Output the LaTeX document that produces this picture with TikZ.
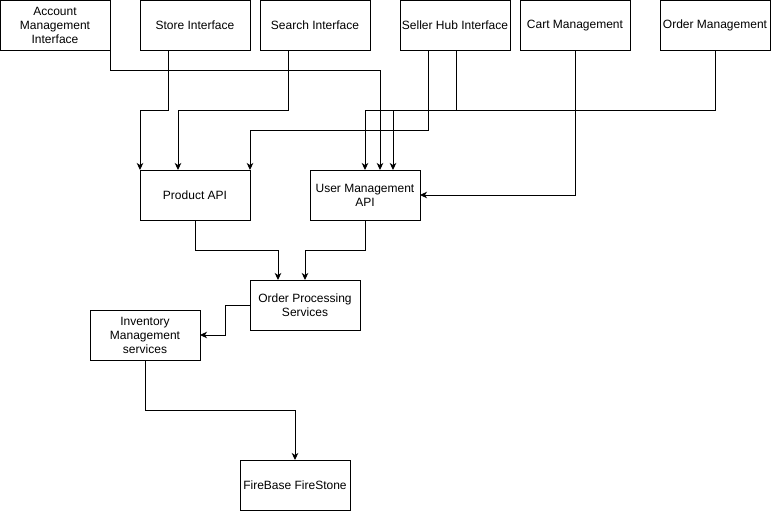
\documentclass[tikz,border=0pt]{standalone}
\usepackage{fontspec}
\setmainfont{Liberation Sans}
\usetikzlibrary{arrows.meta}
\begin{document}
\begin{tikzpicture}[x=1pt,y=-1pt,
  box/.style={draw=black,line width=1pt,minimum width=110pt,minimum height=50pt,inner sep=0pt,outer sep=0pt,align=center,font=\fontsize{12}{14}\selectfont},
  conn/.style={draw=black,line width=1pt,-{Stealth[length=7pt,width=6.5pt,inset=2pt]}}]
\useasboundingbox (0,0) rectangle (771,511);
\node[box] (acc) at (55,25.5) {Account\\Management\\Interface};
\node[box] (store) at (195,25.5) {Store Interface};
\node[box] (search) at (315,25.5) {Search Interface};
\node[box] (seller) at (455,25.5) {Seller Hub Interface};
\node[box] (cart) at (575,25.5) {Cart Management};
\node[box] (order) at (715,25.5) {Order Management};
\node[box] (prod) at (195,195) {Product API};
\node[box] (um) at (365,195) {User Management\\API};
\node[box] (ops) at (305,305) {Order Processing\\Services};
\node[box] (inv) at (145,335) {Inventory\\Management\\services};
\node[box] (fb) at (295,485) {FireBase FireStone};
\draw[conn] (acc.south east) -- ++(0,20) -| ([xshift=15pt]um.north);
\draw[conn] ([xshift=-27pt]store.south) -- ++(0,60) -| (prod.north west);
\draw[conn] ([xshift=-27pt]search.south) -- ++(0,60) -| ([xshift=-17pt]prod.north);
\draw[conn] ([xshift=-27pt]seller.south) -- ++(0,80) -| (prod.north east);
\draw[conn] ([xshift=1pt]seller.south) -- ++(0,60) -| ([xshift=28pt]um.north);
\draw[conn] (order.south) -- ++(0,60) -| (um.north);
\draw[conn] (cart.south) |- (um.east);
\draw[conn] (prod.south) -- ++(0,30) -| ([xshift=-27pt]ops.north);
\draw[conn] (um.south) -- ++(0,30) -| (ops.north);
\draw[conn] (ops.west) -- ++(-25,0) |- (inv.east);
\draw[conn] (inv.south) -- ++(0,50) -| (fb.north);
\end{tikzpicture}
\end{document}
